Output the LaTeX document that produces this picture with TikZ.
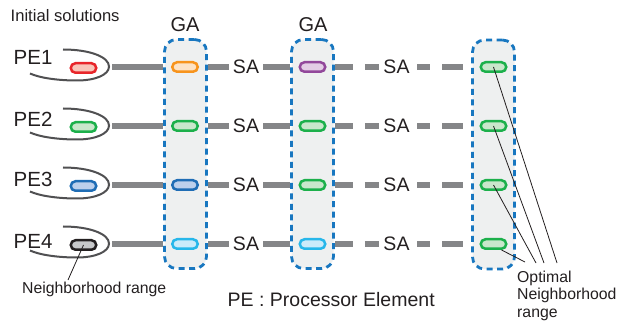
\documentclass[tikz,border=0pt]{standalone}
\usepackage{fontspec}
\setmainfont{Liberation Sans}
\definecolor{txt}{HTML}{231F20}
\definecolor{barg}{HTML}{858688}
\definecolor{boxblue}{HTML}{1877C0}
\definecolor{boxfill}{HTML}{EEF0F0}
\definecolor{arcg}{HTML}{505052}
\definecolor{redA}{HTML}{E8262B}\definecolor{redB}{HTML}{F9C6BA}
\definecolor{orA}{HTML}{F7941D}\definecolor{orB}{HTML}{FDE3C6}
\definecolor{puA}{HTML}{92489B}\definecolor{puB}{HTML}{E3CDE5}
\definecolor{grA}{HTML}{1CB04B}\definecolor{grB}{HTML}{C9E7CB}
\definecolor{blA}{HTML}{1F6DB5}\definecolor{blB}{HTML}{BCD0EC}
\definecolor{bkA}{HTML}{231F20}\definecolor{bkB}{HTML}{C7C8CA}
\definecolor{cyA}{HTML}{27B7EA}\definecolor{cyB}{HTML}{CBEBFA}
\begin{document}
\begin{tikzpicture}[x=1pt,y=-1pt,
  pill/.style={draw, line width=2.5pt, rounded corners=4.75pt, minimum width=25.5pt, minimum height=9.5pt, inner sep=0pt},
  pred/.style={pill, draw=redA, fill=redB},
  pora/.style={pill, draw=orA, fill=orB},
  ppur/.style={pill, draw=puA, fill=puB},
  pgre/.style={pill, draw=grA, fill=grB},
  pblu/.style={pill, draw=blA, fill=blB},
  pblk/.style={pill, draw=bkA, fill=bkB},
  pcya/.style={pill, draw=cyA, fill=cyB},
  gabox/.style={draw=boxblue, fill=boxfill, line width=2.8pt, dash pattern=on 6pt off 4.5pt, rounded corners=12pt, minimum width=42pt, minimum height=229pt, inner sep=0pt},
  bar/.style={draw=barg, line width=6pt},
  satext/.style={font=\fontsize{19.5pt}{22pt}\selectfont, inner sep=4pt, text=txt},
  petext/.style={font=\fontsize{20.5pt}{23pt}\selectfont, inner sep=0pt, anchor=base west, text=txt},
  arcline/.style={draw=arcg, line width=2pt},
  leader/.style={draw=txt, line width=0.8pt},
  small/.style={font=\fontsize{15.8pt}{17.2pt}\selectfont, inner sep=0pt, text=txt}
]
\useasboundingbox (0,0) rectangle (624,323);

% GA boxes
\node[gabox] (box1) at (185.5,154) {};
\node[gabox] (box2) at (312.5,154) {};
\node[gabox] (box3) at (493.5,154.5) {};

% titles
\node[font=\fontsize{16.6pt}{19pt}\selectfont, inner sep=0pt, anchor=base west, text=txt] (init) at (10.5,22) {Initial solutions};
\node[font=\fontsize{20pt}{23pt}\selectfont, inner sep=0pt, anchor=base, text=txt] (ga1) at (185,32) {GA};
\node[font=\fontsize{20pt}{23pt}\selectfont, inner sep=0pt, anchor=base, text=txt] (ga2) at (313,32) {GA};

% PE labels
\node[petext] (pe1) at (13.5,65) {PE1};
\node[petext] (pe2) at (13.5,127) {PE2};
\node[petext] (pe3) at (13.5,187) {PE3};
\node[petext] (pe4) at (13.5,249) {PE4};

% ellipse arcs and bars
\foreach \i/\r in {1/67,2/126,3/185,4/244}{
  \draw[arcline] (63,{\r-17.5}) .. controls (90,{\r-17.5}) and (109,{\r-10}) .. (109,{\r-0.5})
     .. controls (109,{\r+8}) and (95,{\r+13.5}) .. (77,{\r+13.5})
     .. controls (58,{\r+13.5}) and (40,{\r+11}) .. (30,{\r+6.5});
  \coordinate (e\i) at (112,\r);
  \node[satext] (sa\i1) at (246,\r) {SA};
  \node[satext] (sa\i2) at (396.5,\r) {SA};
  \draw[bar] (e\i) -- (e\i -| box1.west);
  \draw[bar] (sa\i1 -| box1.east) -- (sa\i1.west);
  \draw[bar] (sa\i1.east) -- (sa\i1 -| box2.west);
  \draw[bar, dash pattern=on 18pt off 12pt] (sa\i2 -| box2.east) -- (sa\i2.west);
  \draw[bar, dash pattern=on 0pt off 3.5pt on 13pt off 12pt on 21pt off 40pt] (sa\i2.east) -- (sa\i2 -| box3.west);
}

% leader endpoints
\coordinate (o1) at (557,263);
\coordinate (o2) at (544,263);
\coordinate (o3) at (536,263);
\coordinate (o4) at (525,262);
\coordinate (nrtip) at (68,280);

% pills
\node[pred] (p11) at (83.5,68) {};
\node[pora] (p12) at (185,67) {};
\node[ppur] (p13) at (312.5,67) {};
\node[pgre] (p14) at (493.5,67) {};

\node[pgre] (p21) at (83.5,127) {};
\node[pgre] (p22) at (185,126) {};
\node[pgre] (p23) at (312.5,126) {};
\node[pgre] (p24) at (493.5,126) {};

\node[pblu] (p31) at (83.5,186) {};
\node[pblu] (p32) at (185,185) {};
\node[pgre] (p33) at (312.5,185) {};
\node[pgre] (p34) at (493.5,185) {};

\node[pblk] (p41) at (83.5,245) {};
\node[pcya] (p42) at (185,244) {};
\node[pcya] (p43) at (312.5,244) {};
\node[pgre] (p44) at (493.5,244) {};

% leaders
\draw[leader] (p14.center) -- (o1);
\draw[leader] (p24.center) -- (o2);
\draw[leader] (p34.center) -- (o3);
\draw[leader] ([xshift=-6pt]p44.south east) -- (o4);
\draw[leader] (p41.center) -- (nrtip);

% bottom labels
\node[small, anchor=base west] (nr) at (22,294) {Neighborhood range};
\node[font=\fontsize{19.5pt}{22pt}\selectfont, inner sep=0pt, anchor=base west, text=txt] (pe) at (227.5,306) {PE : Processor Element};
\node[small, anchor=base west, align=left] (opt) at (517,317) {Optimal\\Neighborhood\\range};
\end{tikzpicture}
\end{document}
